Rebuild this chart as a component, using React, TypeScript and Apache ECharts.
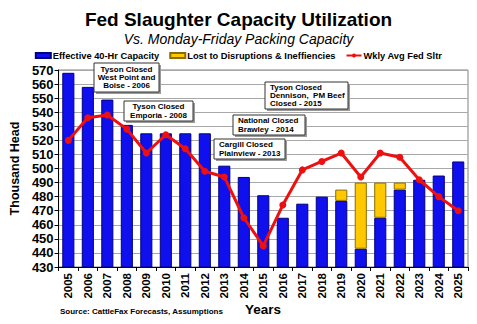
import React, { useEffect, useRef } from "react";
import * as echarts from "echarts";

const years = ["2005","2006","2007","2008","2009","2010","2011","2012","2013","2014","2015","2016","2017","2018","2019","2020","2021","2022","2023","2024","2025"];
const effectiveCapacity = [568,558,549,531,525,525,525,525,502,494,481,465,475,480,477,443,465,485,492,495,505];
const lostCapacity = [0,0,0,0,0,0,0,0,0,0,0,0,0,0,8,47,25,5,0,0,0];
const wklyAvgFedSltr = [520,536,538,528,511,524,514,498,494,465,445,474,499,505,511,494,511,508,492,480,470];

const yMin = 430;
const yMax = 570;
const yInterval = 10;

type Note = { x: number; y: number; w: number; h: number; lines: string[]; align: "left" | "center" };
const notes: Note[] = [
  { x: 94, y: 63, w: 65, h: 29, lines: ["Tyson Closed", "West Point and", "Boise - 2006"], align: "center" },
  { x: 124, y: 101, w: 69, h: 20, lines: ["Tyson Closed", "Emporia - 2008"], align: "center" },
  { x: 233, y: 115, w: 72, h: 20, lines: ["National Closed", "Brawley - 2014"], align: "left" },
  { x: 214, y: 139, w: 71, h: 20, lines: ["Cargill Closed", "Plainview - 2013"], align: "left" },
  { x: 265, y: 82, w: 83, h: 27, lines: ["Tyson Closed", "Dennison,  PM Beef", "Closed - 2015"], align: "left" },
];

const FONT = "'Liberation Sans', Arial, sans-serif";

export default function App() {
  const ref = useRef<HTMLDivElement>(null);
  useEffect(() => {
    if (!ref.current) return;
    const chart = echarts.init(ref.current, null, { renderer: "svg" });
    const noteGraphics: any[] = [];
    notes.forEach((n) => {
      noteGraphics.push({ type: "rect", z: 100, shape: { x: n.x + 2, y: n.y + 2, width: n.w, height: n.h }, style: { fill: "#9a9a9a" } });
      noteGraphics.push({ type: "rect", z: 101, shape: { x: n.x, y: n.y, width: n.w, height: n.h }, style: { fill: "#ffffff", stroke: "#333333", lineWidth: 1 } });
      noteGraphics.push({
        type: "text",
        z: 102,
        x: n.align === "center" ? n.x + n.w / 2 : n.x + 5,
        y: n.y + n.h / 2,
        style: {
          text: n.lines.join("\n"),
          font: `bold 8px ${FONT}`,
          fill: "#000",
          align: n.align,
          verticalAlign: "middle",
          lineHeight: 8.4,
        },
      });
    });
    chart.setOption({
      animation: false,
      backgroundColor: "#ffffff",
      title: [
        {
          text: "Fed Slaughter Capacity Utilization",
          left: "center",
          top: 5,
          textStyle: { fontFamily: FONT, fontWeight: "bold", fontSize: 19, color: "#000" },
        },
        {
          text: "Vs. Monday-Friday Packing Capacity",
          left: "center",
          top: 27,
          textStyle: { fontFamily: FONT, fontStyle: "italic", fontWeight: "normal", fontSize: 14, color: "#000" },
        },
      ],
      legend: {
        top: 46,
        left: "center",
        itemWidth: 15,
        itemHeight: 5,
        itemGap: 10,
        textStyle: { fontFamily: FONT, fontWeight: "bold", fontSize: 9.3, color: "#000", padding: [0, 0, 0, -3] },
        data: [
          { name: "Effective 40-Hr Capacity", icon: "rect" },
          { name: "Lost to Disruptions & Ineffiencies", icon: "rect" },
          { name: "Wkly Avg Fed Sltr" },
        ],
      },
      grid: {
        left: 57,
        right: 9,
        top: 70,
        bottom: 57,
        show: true,
        borderColor: "#808080",
        borderWidth: 1,
      },
      xAxis: {
        type: "category",
        data: years,
        boundaryGap: true,
        axisLine: { lineStyle: { color: "#000", width: 1 } },
        axisTick: { show: true, alignWithLabel: false, length: 4, lineStyle: { color: "#000" } },
        axisLabel: {
          rotate: 90,
          interval: 0,
          fontFamily: FONT,
          fontWeight: "bold",
          fontSize: 11.5,
          color: "#000",
          margin: 6,
        },
      },
      yAxis: {
        type: "value",
        min: yMin,
        max: yMax,
        interval: yInterval,
        name: "Thousand Head",
        nameLocation: "middle",
        nameGap: 36,
        nameTextStyle: { fontFamily: FONT, fontWeight: "bold", fontSize: 12.5, color: "#000" },
        axisLine: { show: true, lineStyle: { color: "#000", width: 1 } },
        axisTick: { show: true, length: 4, lineStyle: { color: "#000" } },
        axisLabel: { fontFamily: FONT, fontWeight: "bold", fontSize: 13, color: "#000", margin: 5 },
        splitLine: { show: true, lineStyle: { color: "#a8a8a8", width: 1 } },
      },
      graphic: [
        {
          type: "text",
          x: 263,
          y: 309,
          style: { text: "Years", font: `bold 13.5px ${FONT}`, fill: "#000", align: "center", verticalAlign: "middle" },
        },
        {
          type: "text",
          x: 60,
          y: 311,
          style: { text: "Source: CattleFax Forecasts, Assumptions", font: `bold 8px ${FONT}`, fill: "#000", align: "left", verticalAlign: "middle" },
        },
        ...noteGraphics,
      ],
      series: [
        {
          name: "Effective 40-Hr Capacity",
          type: "bar",
          stack: "cap",
          data: effectiveCapacity,
          barWidth: "62%",
          itemStyle: { color: "#1010EE", borderColor: "#000080", borderWidth: 1 },
        },
        {
          name: "Lost to Disruptions & Ineffiencies",
          type: "bar",
          stack: "cap",
          data: lostCapacity.map((v) => (v === 0 ? "-" : v)),
          barWidth: "62%",
          itemStyle: { color: "#FFC800", borderColor: "#8a6d00", borderWidth: 1 },
        },
        {
          name: "Wkly Avg Fed Sltr",
          type: "line",
          data: wklyAvgFedSltr,
          symbol: "circle",
          symbolSize: 7,
          lineStyle: { color: "#EE1010", width: 3 },
          itemStyle: { color: "#EE1010" },
          z: 5,
        },
      ],
    });
    return () => chart.dispose();
  }, []);
  return <div ref={ref} style={{ width: 477, height: 324, position: "absolute", left: 0, top: 0 }} />;
}
